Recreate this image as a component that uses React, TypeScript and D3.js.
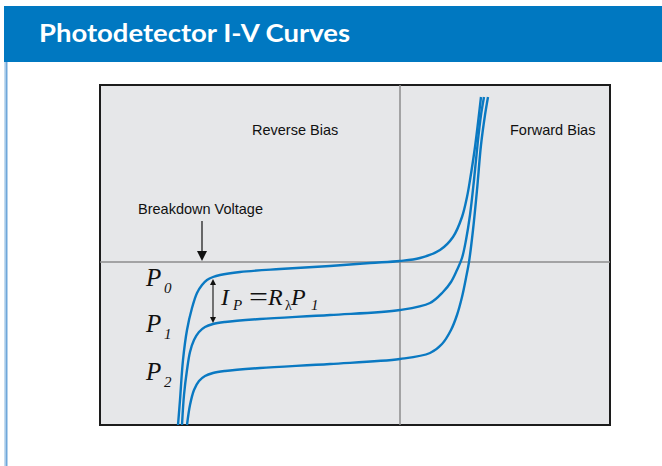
import React from 'react';
import * as d3 from 'd3';

// I-V curves: [voltage, current] in arbitrary units
const P0_CURVE: [number, number][] = [
  [-4.44, -3.26], [-4.4, -2.76], [-4.34, -1.96], [-4.26, -1.36], [-4.16, -0.92],
  [-4.06, -0.62], [-3.96, -0.46], [-3.86, -0.36], [-3.74, -0.3], [-3.6, -0.26],
  [-3.2, -0.2], [-2.4, -0.14], [-1.4, -0.08], [-0.6, -0.02], [0, 0.02],
  [0.4, 0.08], [0.8, 0.24], [1.06, 0.5], [1.24, 0.9], [1.34, 1.3],
  [1.4, 1.64], [1.5, 2.3], [1.62, 3.3],
];
const P1_CURVE: [number, number][] = [
  [-4.36, -3.26], [-4.32, -2.66], [-4.26, -2.16], [-4.2, -1.8], [-4.12, -1.56],
  [-4.02, -1.4], [-3.9, -1.3], [-3.74, -1.24], [-3.5, -1.2], [-2.8, -1.14],
  [-1.4, -1.06], [0, -0.96], [0.6, -0.82], [0.86, -0.6], [1.02, -0.4],
  [1.14, -0.16], [1.24, 0.08], [1.32, 0.44], [1.4, 0.94], [1.48, 1.64],
  [1.56, 2.44], [1.62, 2.94], [1.68, 3.3],
];
const P2_CURVE: [number, number][] = [
  [-4.26, -3.26], [-4.2, -2.86], [-4.12, -2.56], [-4.02, -2.38], [-3.9, -2.28],
  [-3.74, -2.22], [-3.5, -2.18], [-2.8, -2.12], [-1.4, -2.04], [0, -1.94],
  [0.6, -1.82], [0.84, -1.64], [1.02, -1.36], [1.14, -1.06], [1.24, -0.7],
  [1.32, -0.32], [1.38, 0], [1.46, 0.64], [1.54, 1.44], [1.62, 2.34],
  [1.7, 2.94], [1.76, 3.3],
];
const CURVES = [P0_CURVE, P1_CURVE, P2_CURVE];

// power labels: [subscript, current level of the label baseline]
const POWER_LABELS: [string, number][] = [
  ['0', -0.48],
  ['1', -1.4],
  ['2', -2.36],
];

const TITLE = 'Photodetector I-V Curves';
const BREAKDOWN_V = -3.96;
const PHOTO_ARROW_V = -3.74;

const W = 662;
const H = 466;
const BLUE = '#0a79c2';

export default function App() {
  const x = d3.scaleLinear().domain([-6, 4.2]).range([100, 610]);
  const y = d3.scaleLinear().domain([-3.26, 3.54]).range([425, 85]);

  const line = d3
    .line<[number, number]>()
    .x(d => x(d[0]))
    .y(d => y(d[1]))
    .curve(d3.curveCatmullRom.alpha(0.5));

  const x0 = x(0);
  const y0 = y(0);
  const bx = x(BREAKDOWN_V);
  const ax = x(PHOTO_ARROW_V);
  const aTop = y(-0.3) + 2;
  const aBot = y(-1.24) - 1;

  const serif = '"Liberation Serif", "DejaVu Serif", serif';
  const sans = '"Liberation Sans", Arial, sans-serif';

  return (
    <svg
      width={W}
      height={H}
      style={{ position: 'absolute', left: 0, top: 0, background: '#fff' }}
    >
      {/* header band */}
      <rect x={4} y={6} width={W - 4} height={56} fill="#0078c1" />
      <text
        x={39}
        y={42}
        fill="#fff"
        fontFamily='Lato, "Open Sans", sans-serif'
        fontWeight={700}
        fontSize={25}
        textLength={311}
        lengthAdjust="spacingAndGlyphs"
      >
        {TITLE}
      </text>
      <rect x={4} y={62} width={1.5} height={H - 62} fill="#c4dcf0" />
      <rect x={5.5} y={62} width={2} height={H - 62} fill="#6fa7da" />

      {/* plot area */}
      <rect
        x={x.range()[0]}
        y={y.range()[1]}
        width={x.range()[1] - x.range()[0]}
        height={y.range()[0] - y.range()[1]}
        fill="#e6e7e9"
        stroke="#1c1c1c"
        strokeWidth={2}
      />
      <line x1={x0} x2={x0} y1={y.range()[1]} y2={y.range()[0]} stroke="#8c8c8c" strokeWidth={1.5} />
      <line x1={x.range()[0]} x2={x.range()[1]} y1={y0} y2={y0} stroke="#8c8c8c" strokeWidth={1.5} />

      {CURVES.map((c, i) => (
        <path key={i} d={line(c) || ''} fill="none" stroke={BLUE} strokeWidth={2.4} />
      ))}

      {/* region labels */}
      <text x={252} y={135} fontFamily={sans} fontSize={14.5} fill="#111">
        Reverse Bias
      </text>
      <text x={510} y={135} fontFamily={sans} fontSize={14.5} fill="#111">
        Forward Bias
      </text>

      {/* breakdown annotation */}
      <text x={138} y={214} fontFamily={sans} fontSize={14.5} fill="#111">
        Breakdown Voltage
      </text>
      <line x1={bx} x2={bx} y1={221} y2={252} stroke="#111" strokeWidth={1.2} />
      <path d={`M${bx - 5},${251} L${bx + 5},${251} L${bx},${y0 - 1} Z`} fill="#111" />

      {/* photocurrent arrow */}
      <line x1={ax} x2={ax} y1={aTop + 4} y2={aBot - 4} stroke="#111" strokeWidth={1.1} />
      <path d={`M${ax - 3},${aTop + 6} L${ax + 3},${aTop + 6} L${ax},${aTop} Z`} fill="#111" />
      <path d={`M${ax - 3},${aBot - 6} L${ax + 3},${aBot - 6} L${ax},${aBot} Z`} fill="#111" />

      {/* formula */}
      <g fontFamily={serif} fontStyle="italic" fill="#111">
        <text x={221} y={305} fontSize={24}>I</text>
        <text x={233} y={310} fontSize={15}>P</text>
        <text x={249} y={306} fontSize={28} fontStyle="normal" textLength={19} lengthAdjust="spacingAndGlyphs">=</text>
        <text x={268} y={305} fontSize={24}>R</text>
        <text x={285} y={310} fontSize={14} fontStyle="normal">λ</text>
        <text x={291} y={305} fontSize={24}>P</text>
        <text x={311} y={310} fontSize={15}>1</text>
      </g>

      {/* power labels */}
      {POWER_LABELS.map(([sub, lvl]) => (
        <g key={sub} fontFamily={serif} fontStyle="italic" fill="#111">
          <text x={146} y={y(lvl)} fontSize={25}>P</text>
          <text x={164} y={y(lvl) + 7} fontSize={15}>{sub}</text>
        </g>
      ))}
    </svg>
  );
}
